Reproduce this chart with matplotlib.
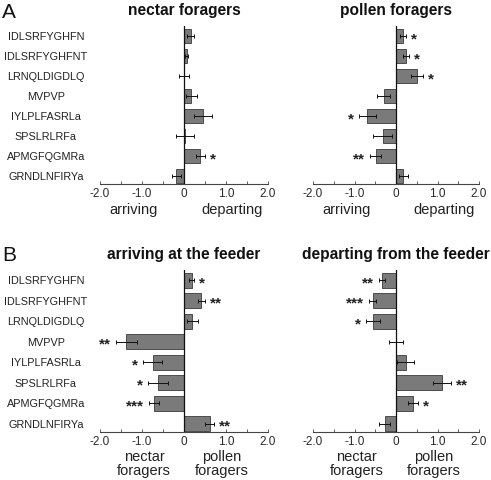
import matplotlib
matplotlib.use("Agg")
import matplotlib.pyplot as plt
import numpy as np

plt.rcParams["font.family"] = ["Liberation Sans", "DejaVu Sans"]

peptides = ["IDLSRFYGHFN", "IDLSRFYGHFNT", "LRNQLDIGDLQ", "MVPVP",
            "IYLPLFASRLa", "SPSLRLRFa", "APMGFQGMRa", "GRNDLNFIRYa"]

# panel A: nectar foragers / pollen foragers (arriving < 0 < departing)
nectar_val = [0.16, 0.06, -0.01, 0.17, 0.45, 0.02, 0.39, -0.18]
nectar_err = [0.08, 0.04, 0.12, 0.13, 0.22, 0.22, 0.10, 0.10]
nectar_sig = ["", "", "", "", "", "", "*", ""]
pollen_val = [0.17, 0.24, 0.51, -0.30, -0.69, -0.32, -0.49, 0.18]
pollen_err = [0.07, 0.07, 0.14, 0.16, 0.21, 0.23, 0.13, 0.10]
pollen_sig = ["*", "*", "*", "", "*", "", "**", ""]

# panel B: arriving / departing (nectar < 0 < pollen)
arriving_val = [0.18, 0.41, 0.20, -1.37, -0.75, -0.62, -0.71, 0.61]
arriving_err = [0.06, 0.08, 0.13, 0.26, 0.22, 0.23, 0.12, 0.11]
arriving_sig = ["*", "**", "", "**", "*", "*", "***", "**"]
departing_val = [-0.34, -0.56, -0.56, 0.00, 0.23, 1.11, 0.41, -0.27]
departing_err = [0.07, 0.08, 0.17, 0.16, 0.21, 0.22, 0.11, 0.13]
departing_sig = ["**", "***", "*", "", "", "**", "*", ""]

ticks = [-2.0, -1.5, -1.0, -0.5, 0, 0.5, 1.0, 1.5, 2.0]
tick_labels = ["-2.0", "", "-1.0", "", "0", "", "1.0", "", "2.0"]

BAR, EDGE, TXT = "#7a7a7a", "#3a3a3a", "#222222"

fig = plt.figure(figsize=(4.91, 4.80), dpi=100)
W, H = 491.0, 480.0


def panel(x0, x1, ytop, ybot, vals, errs, sigs, title, left_lbl, right_lbl, lpos, rpos, lbl_gap,
          show_names):
    ax = fig.add_axes([x0 / W, 1 - ybot / H, (x1 - x0) / W, (ybot - ytop) / H])
    y = np.arange(len(peptides))
    ax.barh(y, vals, height=0.72, color=BAR, edgecolor=EDGE, linewidth=0.6, zorder=2)
    ax.errorbar(vals, y, xerr=errs, fmt="none", ecolor="#111111", elinewidth=0.7,
                capsize=1.5, capthick=0.7, zorder=3)
    for yi, v, e, s in zip(y, vals, errs, sigs):
        if not s:
            continue
        if v >= 0:
            ax.text(v + e + 0.12, yi + 0.15, s, ha="left", va="center", fontsize=11,
                    fontweight="bold", color=TXT)
        else:
            ax.text(v - e - 0.12, yi + 0.15, s, ha="right", va="center", fontsize=11,
                    fontweight="bold", color=TXT)
    ax.axvline(0, color="#111111", lw=0.9, zorder=4)
    ax.set_xlim(-2.0, 2.0)
    ax.set_ylim(7.4, -0.5)
    for sp in ["top", "right", "left"]:
        ax.spines[sp].set_visible(False)
    ax.spines["bottom"].set_color("#444444")
    ax.spines["bottom"].set_linewidth(0.8)
    ax.set_xticks(ticks)
    ax.set_xticklabels(tick_labels, fontsize=8.5)
    ax.tick_params(axis="x", direction="in", length=2, width=0.6, pad=3, colors="#444444",
                   labelcolor="#2a2a2a")
    ax.set_yticks(y)
    if show_names:
        ax.set_yticklabels(peptides, fontsize=7.8, color=TXT, ha="center")
        ax.tick_params(axis="y", length=0, pad=39)
    else:
        ax.set_yticklabels([])
        ax.tick_params(axis="y", length=0)
    ax.set_title(title, fontsize=11.2, fontweight="bold", pad=8, color="#111111")
    h = ybot - ytop
    for pos, lbl in [(lpos, left_lbl), (rpos, right_lbl)]:
        ax.text(pos, -lbl_gap / h, lbl, transform=ax.get_xaxis_transform(), ha="center", va="top",
                fontsize=10.5, color=TXT, linespacing=1.0)
    return ax


panel(100, 268, 26, 184, nectar_val, nectar_err, nectar_sig, "nectar foragers",
      "arriving", "departing", -1.2, 1.15, 19, True)
panel(313, 479, 26, 184, pollen_val, pollen_err, pollen_sig, "pollen foragers",
      "arriving", "departing", -1.2, 1.15, 19, False)
panel(100, 268, 270, 432, arriving_val, arriving_err, arriving_sig, "arriving at the feeder",
      "nectar\nforagers", "pollen\nforagers", -0.95, 0.9, 18, True)
panel(313, 479, 270, 432, departing_val, departing_err, departing_sig, "departing from the feeder",
      "nectar\nforagers", "pollen\nforagers", -0.95, 0.9, 18, False)

fig.text(2 / W, 1 - 3 / H, "A", fontsize=15, va="top", ha="left", color="#111111")
fig.text(2 / W, 1 - 246 / H, "B", fontsize=15, va="top", ha="left", color="#111111")

fig.savefig("out.png", dpi=100)
